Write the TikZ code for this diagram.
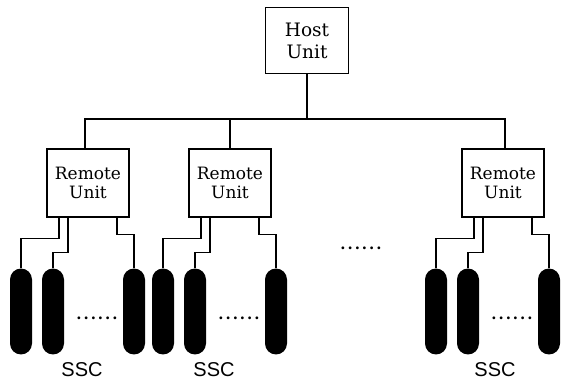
\documentclass[tikz,border=0pt]{standalone}
\usepackage{fontspec}
\setmainfont{DejaVu Serif}
\newfontfamily\sscfont{Liberation Sans}
\newcommand{\sixdots}{.\kern2pt.\kern2pt.\kern2pt.\kern2pt.\kern2pt.}
\begin{document}
\begin{tikzpicture}[x=1pt,y=-1pt,
  line width=1.4pt,
  unitbox/.style={draw, fill=white, inner sep=0pt, align=center},
  hostbox/.style={unitbox, minimum width=83pt, minimum height=66pt, font=\fontsize{18.5}{22}\selectfont},
  remotebox/.style={unitbox, minimum width=82pt, minimum height=68pt, font=\fontsize{17}{19.5}\selectfont},
  capsule/.style={fill=black, draw=none, minimum width=22pt, minimum height=86pt, rounded corners=11pt, inner sep=0pt},
  ssclabel/.style={font=\sscfont\fontsize{20}{22}\selectfont, inner sep=0pt},
  dotrow/.style={font=\bfseries\fontsize{15}{15}\selectfont, inner sep=0pt}]
\useasboundingbox (0,0) rectangle (566,385);
\coordinate (bus) at (0,119);

\node[hostbox] (host) at (307,40.5) {Host\\Unit};
\node[remotebox] (r1) at (88,183) {Remote\\Unit};
\node[remotebox] (r2) at (230,183) {Remote\\Unit};
\node[remotebox] (r3) at (503,183) {Remote\\Unit};

\draw (host.south) -- (host.south |- bus);
\draw ([xshift=-3pt]r1.north) -- ([xshift=-3pt]r1.north |- bus) -- ([xshift=2pt]r3.north |- bus) -- ([xshift=2pt]r3.north);
\draw (r2.north) -- (r2.north |- bus);

% capsules
\foreach \r/\cx in {1/88, 2/230, 3/503} {
  \node[capsule] (c\r a) at (\cx-67, 311.5) {};
  \node[capsule] (c\r b) at (\cx-35, 311.5) {};
  \node[capsule] (c\r c) at (\cx+46, 311.5) {};
  \draw ([xshift=-29pt]r\r.south) -- ++(0,21) -| (c\r a.north);
  \draw ([xshift=-20pt]r\r.south) -- ++(0,35) -| (c\r b.north);
  \draw ([xshift=29pt]r\r.south) -- ++(0,17) -| (c\r c.north);
  \node[dotrow] (d\r) at (\cx+9, 318) {\sixdots};
}

\node[dotrow] (dmid) at (361,248) {\sixdots};

\node[ssclabel] (s1) at (82,370) {SSC};
\node[ssclabel] (s2) at (214,370) {SSC};
\node[ssclabel] (s3) at (495,370) {SSC};
\end{tikzpicture}
\end{document}
